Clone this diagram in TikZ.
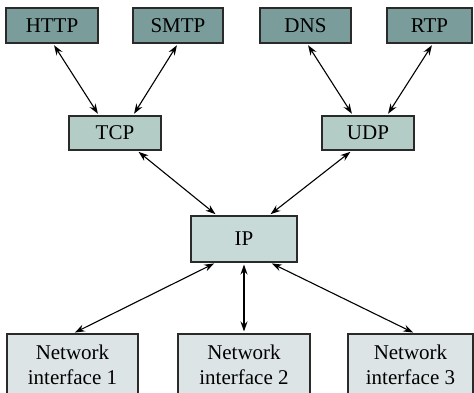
\documentclass[tikz,border=0pt]{standalone}
\usepackage{fontspec}
\setmainfont{Liberation Serif}
\newfontfamily\boxfont{Liberation Serif}
\usetikzlibrary{arrows.meta}
\definecolor{appc}{HTML}{7A9D9C}
\definecolor{transc}{HTML}{B4CCC6}
\definecolor{ipc}{HTML}{C8DAD8}
\definecolor{nic}{HTML}{DCE4E6}
\definecolor{edgec}{HTML}{2A2A2A}
\begin{document}
\begin{tikzpicture}[x=1pt,y=-1pt,
  box/.style={draw=edgec,line width=1.1pt,inner sep=0pt,font=\boxfont\fontsize{21}{25}\selectfont},
  appbox/.style={box,fill=appc,minimum height=35pt},
  transbox/.style={box,fill=transc,minimum width=92pt,minimum height=34pt},
  ipbox/.style={box,fill=ipc,minimum width=106pt,minimum height=46pt},
  nibox/.style={box,fill=nic,minimum height=62pt,align=center},
  link/.style={{Stealth[length=10pt,width=7pt]}-{Stealth[length=10pt,width=7pt]},line width=1.1pt,black,shorten <=2pt,shorten >=2pt}]
\useasboundingbox (0,0) rectangle (474,393);
\clip (0,0) rectangle (474,393);
\node[appbox,minimum width=92pt] (http) at (52,25.5) {HTTP};
\node[appbox,minimum width=90pt] (smtp) at (178,25.5) {SMTP};
\node[appbox,minimum width=91pt] (dns) at (305.5,25.5) {DNS};
\node[appbox,minimum width=85pt] (rtp) at (429.5,25.5) {RTP};
\node[transbox] (tcp) at (115,133) {TCP};
\node[transbox] (udp) at (368,133) {UDP};
\node[ipbox] (ip) at (244,239) {IP};
\node[nibox,minimum width=131pt] (ni1) at (72.5,365) {Network\\interface 1};
\node[nibox,minimum width=132pt] (ni2) at (244,365) {Network\\interface 2};
\node[nibox,minimum width=125pt] (ni3) at (410.5,365) {Network\\interface 3};
\draw[link] ([xshift=1pt]http.south) -- ([xshift=-16pt]tcp.north);
\draw[link] (smtp.south) -- ([xshift=18pt]tcp.north);
\draw[link] ([xshift=1.5pt]dns.south) -- ([xshift=-15pt]udp.north);
\draw[link] ([xshift=3.5pt]rtp.south) -- ([xshift=19pt]udp.north);
\draw[link] ([xshift=22pt]tcp.south) -- ([xshift=-27pt]ip.north);
\draw[link] ([xshift=-16pt]udp.south) -- ([xshift=25pt]ip.north);
\draw[link] ([xshift=-28pt]ip.south) -- ([xshift=0.5pt]ni1.north);
\draw[link] (ip.south) -- (ni2.north);
\draw[link] ([xshift=26pt]ip.south) -- ([xshift=4.5pt]ni3.north);
\end{tikzpicture}
\end{document}
